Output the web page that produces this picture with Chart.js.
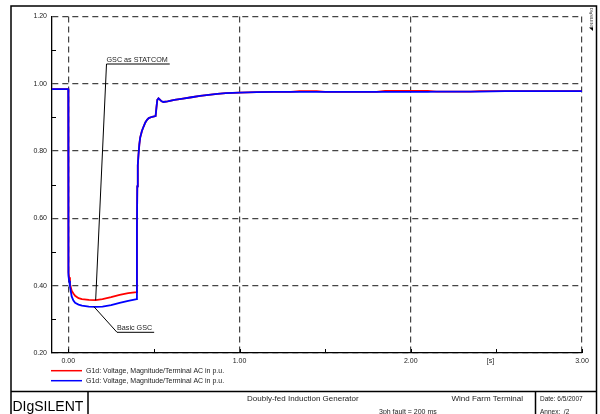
<!DOCTYPE html>
<html>
<head>
<meta charset="utf-8">
<script src="https://cdn.jsdelivr.net/npm/chart.js@4.4.1/dist/chart.umd.min.js"></script>
<style>
  html, body { margin: 0; padding: 0; background: #fff; }
  #wrap { position: relative; width: 600px; height: 414px; }
  canvas { display: block; }
</style>
</head>
<body>
<div id="wrap"><canvas id="c" width="600" height="414"></canvas></div>
<script>
// Simulation time [s]
const time = [
  -0.095, 0, 0.001, 0.005, 0.01, 0.02, 0.03, 0.04, 0.06, 0.08, 0.12, 0.16, 0.2, 0.25, 0.3, 0.35, 0.4,
  0.401, 0.403, 0.406, 0.41, 0.415, 0.42, 0.43, 0.44, 0.45, 0.46, 0.47, 0.49, 0.51,
  0.515, 0.52, 0.527, 0.535, 0.545, 0.556, 0.58, 0.62, 0.67, 0.72, 0.77, 0.82, 0.87, 0.92,
  1.0, 1.1, 1.2, 1.3, 1.35, 1.45, 1.5, 1.8, 1.85, 2.1, 2.15, 2.35, 2.4, 2.55, 3.0
];

// G1d terminal voltage with the grid side converter operated as STATCOM [p.u.]
const voltStatcom = [
  0.984, 0.984, 0.440, 0.425, 0.405, 0.385, 0.377, 0.370, 0.363, 0.360, 0.358, 0.357, 0.360, 0.366, 0.373, 0.378, 0.381,
  0.570, 0.695, 0.758, 0.789, 0.820, 0.840, 0.860, 0.873, 0.885, 0.893, 0.898, 0.902, 0.904,
  0.930, 0.952, 0.957, 0.953, 0.948, 0.946, 0.948, 0.952, 0.956, 0.960, 0.964, 0.967, 0.970, 0.972,
  0.974, 0.975, 0.976, 0.976, 0.978, 0.978, 0.976, 0.976, 0.979, 0.979, 0.977, 0.977, 0.978, 0.978, 0.978
];

// G1d terminal voltage with the basic grid side converter [p.u.]
const voltBasic = [
  0.984, 0.984, 0.430, 0.415, 0.398, 0.368, 0.356, 0.349, 0.344, 0.341, 0.338, 0.337, 0.338, 0.342, 0.349, 0.355, 0.360,
  0.570, 0.695, 0.758, 0.789, 0.820, 0.840, 0.860, 0.873, 0.885, 0.893, 0.898, 0.902, 0.904,
  0.930, 0.952, 0.957, 0.953, 0.948, 0.946, 0.948, 0.952, 0.956, 0.960, 0.964, 0.967, 0.970, 0.972,
  0.974, 0.975, 0.976, 0.976, 0.976, 0.976, 0.976, 0.976, 0.976, 0.976, 0.977, 0.977, 0.977, 0.978, 0.978
];

const xTickValues = [0, 0.5, 1, 1.5, 2, 2.5, 3];
const xTickLabels = ['0.00', '', '1.00', '', '2.00', '', '3.00'];
const yTickValues = [0.2, 0.3, 0.4, 0.5, 0.6, 0.7, 0.8, 0.9, 1.0, 1.1, 1.2];
const yTickLabels = ['0.20', '', '0.40', '', '0.60', '', '0.80', '', '1.00', '', '1.20'];

const seriesLabel = 'G1d: Voltage, Magnitude/Terminal AC in p.u.';
const FONT = '"Liberation Sans", Arial, Helvetica, sans-serif';
const INK = '#222';
const GRID = '#444';

function pts(ys) { return time.map((t, i) => ({ x: t, y: ys[i] })); }

// Frame, title block, legend, minor ticks and curve labels
const decor = {
  id: 'decor',
  beforeDatasetsDraw(chart) {
    const { ctx, chartArea: a, scales: { x, y } } = chart;
    ctx.save();
    ctx.strokeStyle = '#000';
    ctx.lineWidth = 1;
    // inward minor ticks
    ctx.beginPath();
    yTickValues.forEach((v, i) => {
      if (yTickLabels[i] === '') {
        const py = Math.round(y.getPixelForValue(v)) + 0.5;
        ctx.moveTo(a.left, py); ctx.lineTo(a.left + 4, py);
      }
    });
    xTickValues.forEach((v, i) => {
      const px = Math.round(x.getPixelForValue(v)) + 0.5;
      ctx.moveTo(px, a.bottom); ctx.lineTo(px, a.bottom - 4);
    });
    ctx.stroke();
    ctx.restore();
  },
  afterDraw(chart) {
    const { ctx, chartArea: a, scales: { x, y } } = chart;
    ctx.save();

    // unit label of the time axis
    ctx.fillStyle = INK;
    ctx.font = '7px ' + FONT;
    ctx.textAlign = 'center';
    ctx.textBaseline = 'middle';
    ctx.fillText('[s]', x.getPixelForValue(2.465), 361.5);

    // curve labels with leader lines
    const label = (txt, tx, ty, px, py) => {
      ctx.font = '7.2px ' + FONT;
      ctx.textAlign = 'left';
      ctx.textBaseline = 'alphabetic';
      ctx.fillStyle = INK;
      ctx.fillText(txt, tx, ty);
      const w = ctx.measureText(txt).width;
      ctx.strokeStyle = '#000';
      ctx.lineWidth = 1;
      ctx.beginPath();
      ctx.moveTo(tx + w + 2, ty + 2.5);
      ctx.lineTo(tx, ty + 2.5);
      ctx.lineTo(px, py);
      ctx.stroke();
    };
    const iMinS = 11; // t = 0.16
    label('GSC as STATCOM', 106.5, 61.5,
      x.getPixelForValue(time[iMinS]), y.getPixelForValue(voltStatcom[iMinS]));
    label('Basic GSC', 117, 329.8,
      x.getPixelForValue(0.15), y.getPixelForValue(0.3375));

    // legend
    const legend = [['#ff0000', 370.7], ['#0000ff', 380.7]];
    legend.forEach(([col, ly]) => {
      ctx.strokeStyle = col;
      ctx.lineWidth = 1.5;
      ctx.beginPath();
      ctx.moveTo(51, ly); ctx.lineTo(82, ly);
      ctx.stroke();
      ctx.fillStyle = INK;
      ctx.font = '7px ' + FONT;
      ctx.textAlign = 'left';
      ctx.textBaseline = 'middle';
      ctx.fillText(seriesLabel, 86, ly + 0.3);
    });

    // outer frame and title block
    ctx.strokeStyle = '#000';
    ctx.lineWidth = 1.5;
    ctx.beginPath();
    ctx.moveTo(11, 420); ctx.lineTo(11, 6); ctx.lineTo(596.5, 6); ctx.lineTo(596.5, 420);
    ctx.moveTo(11, 391.5); ctx.lineTo(596.5, 391.5);
    ctx.moveTo(88, 391.5); ctx.lineTo(88, 420);
    ctx.moveTo(535.5, 391.5); ctx.lineTo(535.5, 420);
    ctx.stroke();

    ctx.fillStyle = '#000';
    ctx.textBaseline = 'alphabetic';
    ctx.textAlign = 'left';
    ctx.font = '14px ' + FONT;
    ctx.fillText('DIgSILENT', 12.5, 411);

    ctx.fillStyle = INK;
    ctx.font = '8px ' + FONT;
    ctx.fillText('Doubly-fed Induction Generator', 247, 401);
    ctx.textAlign = 'right';
    ctx.fillText('Wind Farm Terminal', 523, 401);
    ctx.textAlign = 'left';
    ctx.font = '7px ' + FONT;
    ctx.fillText('3ph fault = 200 ms', 379, 414);
    ctx.font = '6.5px ' + FONT;
    ctx.fillText('Date: 6/5/2007', 540, 401);
    ctx.fillText('Annex:  /2', 540, 414);

    // vertical product mark at the right edge
    ctx.save();
    ctx.translate(591.5, 8);
    ctx.rotate(Math.PI / 2);
    ctx.font = '4px ' + FONT;
    ctx.fillStyle = '#333';
    ctx.textBaseline = 'middle';
    ctx.fillText('DIgSILENT', 0, 0);
    ctx.restore();
    ctx.fillStyle = '#000';
    ctx.beginPath();
    ctx.moveTo(589, 27.5); ctx.lineTo(593, 27.5); ctx.lineTo(593, 31);
    ctx.closePath();
    ctx.fill();

    ctx.restore();
  }
};

new Chart(document.getElementById('c'), {
  type: 'line',
  data: {
    datasets: [
      { label: 'GSC as STATCOM', data: pts(voltStatcom), borderColor: '#ff0000', borderWidth: 1.8, order: 1 },
      { label: 'Basic GSC', data: pts(voltBasic), borderColor: '#0000ff', borderWidth: 1.8, order: 0 }
    ]
  },
  options: {
    responsive: false,
    animation: false,
    devicePixelRatio: 1,
    elements: { point: { radius: 0 }, line: { tension: 0 } },
    layout: { padding: { left: 0, right: 18, top: 16.5, bottom: 0 } },
    plugins: { legend: { display: false }, tooltip: { enabled: false } },
    scales: {
      x: {
        type: 'linear',
        min: -0.095,
        max: 3,
        afterBuildTicks: s => { s.ticks = xTickValues.map(v => ({ value: v })); },
        afterFit: s => { s.height = 61; },
        ticks: {
          autoSkip: false, maxRotation: 0, padding: 4,
          color: INK, font: { family: FONT, size: 7 },
          callback: (v, i) => xTickLabels[i]
        },
        grid: {
          drawTicks: false,
          color: GRID,
          lineWidth: c => (c.tick && xTickLabels[c.index] !== '' ? 1.2 : 0)
        },
        border: { display: true, color: '#000', width: 1.3, dash: [6, 4] }
      },
      y: {
        type: 'linear',
        min: 0.2,
        max: 1.2,
        afterBuildTicks: s => { s.ticks = yTickValues.map(v => ({ value: v })); },
        afterFit: s => { s.width = 52; },
        ticks: {
          autoSkip: false, padding: 5,
          color: INK, font: { family: FONT, size: 7 },
          callback: (v, i) => yTickLabels[i]
        },
        grid: {
          drawTicks: false,
          color: GRID,
          lineWidth: c => (c.tick && yTickLabels[c.index] !== '' ? 1.2 : 0)
        },
        border: { display: true, color: '#000', width: 1.3, dash: [6, 4] }
      }
    }
  },
  plugins: [decor]
});
</script>
</body>
</html>
